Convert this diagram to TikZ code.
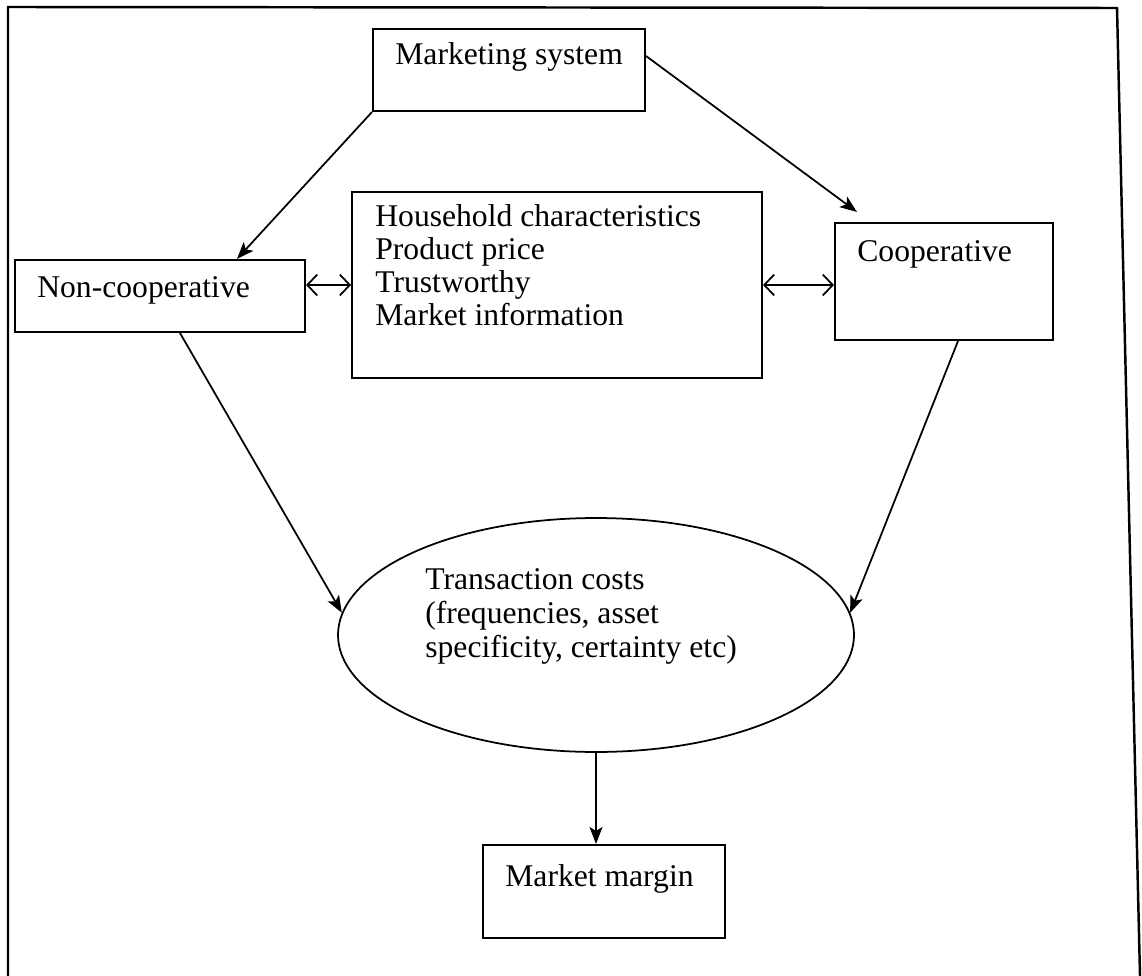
\documentclass[tikz,border=0pt]{standalone}
\usepackage{fontspec}
\setmainfont{Liberation Serif}
\usetikzlibrary{shapes.geometric, arrows.meta}

\begin{document}
\begin{tikzpicture}[x=0.02cm, y=-0.02cm]
    \tikzstyle{block} = [rectangle, draw=black, line width=1.2pt, inner sep=0pt, fill=white]
    \tikzstyle{txt} = [inner sep=0pt, align=left, font=\fontsize{18}{18.9}\selectfont]
    \tikzstyle{arr} = [line width=1pt, -{Stealth[length=0.34cm, width=0.26cm, inset=0.08cm]}]
    \tikzstyle{dbl} = [line width=1pt, {Straight Barb[length=0.2cm, width=0.42cm]}-{Straight Barb[length=0.2cm, width=0.42cm]}]

    \useasboundingbox (0,0) rectangle (1142,976);
    % outer frame, open at the bottom
    \draw [line width=1.4pt] (8,976) -- (8,7) -- (1117,8) -- (1140,976);

    \node (mkt) [block, minimum width=5.44cm, minimum height=1.64cm] at (509,70) {};
    \node (mkt-t) [txt, anchor=base west] at (395,65) {Marketing system};

    \node (noncoop) [block, minimum width=5.8cm, minimum height=1.44cm] at (160,296) {};
    \node (noncoop-t) [txt, anchor=base west] at (37,298) {Non-cooperative};

    \node (hh) [block, minimum width=8.2cm, minimum height=3.72cm] at (557,285) {};
    \node (hh-t) [txt, anchor=north west] at (375,204) {Household characteristics\\Product price\\Trustworthy\\Market information};

    \node (coop) [block, minimum width=4.36cm, minimum height=2.34cm] at (944,281.5) {};
    \node (coop-t) [txt, anchor=base west] at (857,262) {Cooperative};

    \node (tc) [ellipse, draw=black, line width=1pt, inner sep=0pt, minimum width=10.32cm, minimum height=4.68cm] at (596,635) {};
    \node (tc-t) [txt, anchor=north west, font=\fontsize{18}{19.4}\selectfont] at (425,568) {Transaction costs\\(frequencies, asset\\specificity, certainty etc)};

    \node (mm) [block, minimum width=4.84cm, minimum height=1.86cm] at (604,891.5) {};
    \node (mm-t) [txt, anchor=base west] at (505,886) {Market margin};

    \draw [arr] (mkt.south west) -- ([xshift=1.54cm]noncoop.north);
    \draw [arr] ([yshift=0.28cm]mkt.east) -- ([xshift=0.46cm, yshift=0.2cm]coop.north west);
    \draw [dbl] (noncoop.east |- hh.west) -- (hh.west);
    \draw [dbl] (hh.east) -- (hh.east -| coop.west);
    \draw [arr] ([xshift=0.4cm]noncoop.south) -- (tc.175);
    \draw [arr] ([xshift=0.28cm]coop.south) -- (tc.5);
    \draw [arr] (tc.south) -- (tc.south |- mm.north);

\end{tikzpicture}
\end{document}
